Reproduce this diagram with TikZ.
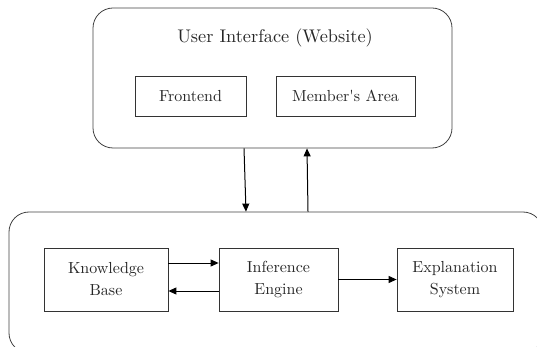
\documentclass[tikz,border=0pt]{standalone}
\usepackage{fontspec}
\newfontfamily\lmten{lmroman10-regular.otf}
\usetikzlibrary{arrows.meta}
\begin{document}
\begin{tikzpicture}[x=1pt,y=-1pt,
  txt/.style={font=\lmten\fontsize{16}{22}\selectfont, align=center, text=black!85},
  outer/.style={draw=black!75, line width=0.8pt, rounded corners=20pt, inner sep=0pt},
  box/.style={draw=black!80, line width=0.8pt, inner sep=0pt, txt},
  arr/.style={draw=black, line width=1pt, -{Triangle[length=8pt,width=7pt]}}]
\useasboundingbox (0,0) rectangle (537,347);
\clip (0,0) rectangle (537,347);
\node[outer, minimum width=359pt, minimum height=140pt] (ui) at (272.5,78) {};
\node[txt, font=\lmten\fontsize{18.3}{22}\selectfont] (title) at (275,37.5) {User Interface (Website)};
\node[box, minimum width=111pt, minimum height=40pt] (fe) at (190.5,96) {Frontend};
\node[box, minimum width=139pt, minimum height=40pt] (ma) at (345.5,96) {Member's Area};
\node[outer, minimum width=534pt, minimum height=141pt] (sys) at (276,282.5) {};
\node[box, minimum width=124pt, minimum height=63pt] (kb) at (106,279.5) {Knowledge\\Base};
\node[box, minimum width=119pt, minimum height=63pt] (ie) at (278.5,279.5) {Inference\\Engine};
\node[box, minimum width=116pt, minimum height=63pt] (es) at (455,279.5) {Explanation\\System};
\draw[arr] ([xshift=-28.5pt]ui.south) -- ([xshift=-30pt]sys.north);
\draw[arr] ([xshift=32pt]sys.north) -- ([xshift=34.5pt]ui.south);
\draw[arr] ([yshift=16.5pt]kb.east) -- ([yshift=16.5pt]ie.west);
\draw[arr] ([yshift=-11.5pt]ie.west) -- ([yshift=-11.5pt]kb.east);
\draw[arr] (ie.east) -- (es.west);
\end{tikzpicture}
\end{document}
